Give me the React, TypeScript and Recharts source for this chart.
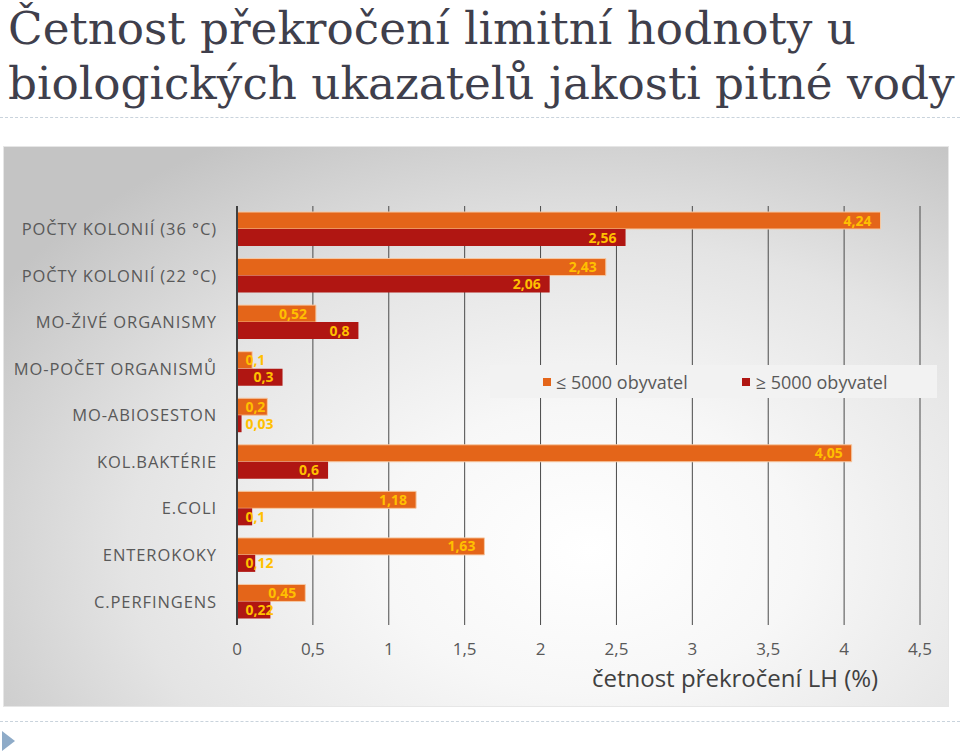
import { BarChart, Bar, XAxis, YAxis, CartesianGrid } from 'recharts';

const categories = [
  'POČTY KOLONIÍ (36 °C)',
  'POČTY KOLONIÍ (22 °C)',
  'MO-ŽIVÉ ORGANISMY',
  'MO-POČET ORGANISMŮ',
  'MO-ABIOSESTON',
  'KOL.BAKTÉRIE',
  'E.COLI',
  'ENTEROKOKY',
  'C.PERFINGENS',
];
const smallTowns = [4.24, 2.43, 0.52, 0.1, 0.2, 4.05, 1.18, 1.63, 0.45];
const largeTowns = [2.56, 2.06, 0.8, 0.3, 0.03, 0.6, 0.1, 0.12, 0.22];
const xTicks = [0, 0.5, 1, 1.5, 2, 2.5, 3, 3.5, 4, 4.5];

const ORANGE = '#E46519';
const RED = '#B01612';
const LABEL = '#FFC000';
const GREY = '#595959';
const SANS = '"Open Sans", "DejaVu Sans", sans-serif';

const data = categories.map((c, i) => ({
  category: c,
  small: smallTowns[i],
  large: largeTowns[i],
}));

const fmt = (v: number) => String(v).replace('.', ',');

// label sits inside the bar end, but never starts left of the bar start + 8
const ValueLabel = (props: any) => {
  const { x, y, width, height, value } = props;
  const txt = fmt(value);
  const w = txt.split('').reduce((s, ch) => s + (ch === ',' ? 4 : 8.2), 0);
  const right = Math.max(x + width - 9, x + 8 + w);
  return (
    <text
      x={right}
      y={y + height / 2}
      dy="0.36em"
      textAnchor="end"
      fill={LABEL}
      fontFamily={SANS}
      fontWeight={700}
      fontSize={14}
    >
      {txt}
    </text>
  );
};

const LegendBox = () => (
  <div
    style={{
      position: 'absolute',
      left: 486,
      top: 218,
      width: 447,
      height: 33,
      background: '#f2f2f2',
      display: 'flex',
      alignItems: 'center',
      fontFamily: SANS,
      fontSize: 18,
      color: GREY,
      whiteSpace: 'nowrap',
    }}
  >
    <span style={{ marginLeft: 53, width: 8, height: 8, background: ORANGE, display: 'inline-block' }} />
    <span style={{ marginLeft: 5 }}>≤ 5000 obyvatel</span>
    <span style={{ marginLeft: 54, width: 8, height: 8, background: RED, display: 'inline-block' }} />
    <span style={{ marginLeft: 6 }}>≥ 5000 obyvatel</span>
  </div>
);

export default function App() {
  return (
    <div style={{ position: 'absolute', left: 0, top: 0, width: 960, height: 754, background: '#fff', overflow: 'hidden' }}>
      <div
        style={{
          position: 'absolute',
          left: 8,
          top: 1,
          fontFamily: '"DejaVu Serif", serif',
          fontSize: 45.3,
          lineHeight: '55px',
          color: '#3f3f4c',
          whiteSpace: 'nowrap',
        }}
      >
        Četnost překročení limitní hodnoty u
        <br />
        biologických ukazatelů jakosti pitné vody
      </div>
      <div style={{ position: 'absolute', left: 0, top: 117, width: 960, borderTop: '1px dashed #c9d3dc' }} />

      <div
        style={{
          position: 'absolute',
          left: 4,
          top: 147,
          width: 944,
          height: 559,
          background: 'radial-gradient(ellipse 75% 85% at 62% 72%, #ffffff 0%, #f7f7f7 30%, #e4e4e4 65%, #c4c4c4 100%)',
          boxShadow: '0 0 0 1px #e6e6e6',
        }}
      >
        <BarChart
          width={944}
          height={559}
          data={data}
          layout="vertical"
          margin={{ top: 59, right: 28, bottom: 41, left: 8 }}
          barSize={17}
          barGap={0}
        >
          <CartesianGrid horizontal={false} vertical stroke="#4a4a4a" strokeWidth={1} />
          <XAxis
            type="number"
            domain={[0, 4.5]}
            ticks={xTicks}
            tickFormatter={fmt}
            axisLine={false}
            tickLine={false}
            tickMargin={12}
            height={40}
            tick={{ fill: GREY, fontSize: 17, fontFamily: SANS }}
          />
          <YAxis
            type="category"
            dataKey="category"
            width={225}
            axisLine={{ stroke: '#404040', strokeWidth: 2 }}
            tickLine={false}
            tickMargin={14}
            tick={{ fill: GREY, fontSize: 16.5, fontFamily: SANS, letterSpacing: 0.9 }}
          />
          <Bar
            dataKey="small"
            name="≤ 5000 obyvatel"
            fill={ORANGE}
            stroke="#f6c9a4"
            strokeWidth={1}
            isAnimationActive={false}
            label={<ValueLabel />}
          />
          <Bar
            dataKey="large"
            name="≥ 5000 obyvatel"
            fill={RED}
            isAnimationActive={false}
            label={<ValueLabel />}
          />
        </BarChart>
        <LegendBox />
        <div
          style={{
            position: 'absolute',
            left: 588,
            top: 514,
            fontFamily: SANS,
            fontSize: 24,
            color: '#404040',
            whiteSpace: 'nowrap',
          }}
        >
          četnost překročení LH (%)
        </div>
      </div>

      <div style={{ position: 'absolute', left: 0, top: 721, width: 960, borderTop: '1px dashed #c9d3dc' }} />
      <div
        style={{
          position: 'absolute',
          left: 2,
          top: 731,
          width: 0,
          height: 0,
          borderTop: '10px solid transparent',
          borderBottom: '10px solid transparent',
          borderLeft: '13px solid #8eabc8',
        }}
      />
    </div>
  );
}
